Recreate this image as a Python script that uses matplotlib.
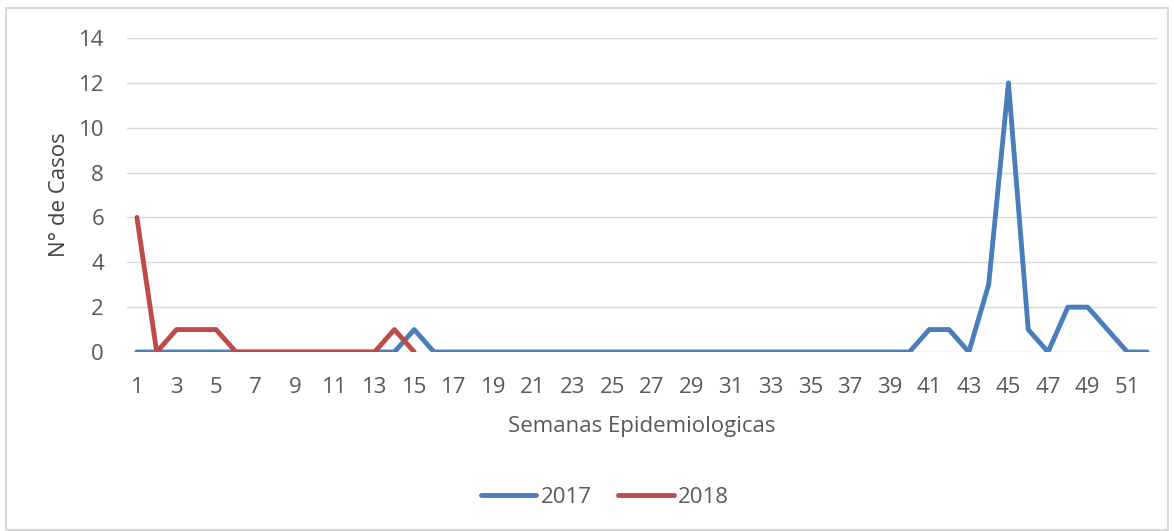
import matplotlib.pyplot as plt
import numpy as np

# weekly cases
semanas = np.arange(1, 53)
casos_2017 = [0, 0, 0, 0, 0, 0, 0, 0, 0, 0, 0, 0, 0, 0, 1, 0, 0, 0, 0, 0,
              0, 0, 0, 0, 0, 0, 0, 0, 0, 0, 0, 0, 0, 0, 0, 0, 0, 0, 0, 0,
              1, 1, 0, 3, 12, 1, 0, 2, 2, 1, 0, 0]
semanas_2018 = np.arange(1, 16)
casos_2018 = [6, 0, 1, 1, 1, 0, 0, 0, 0, 0, 0, 0, 0, 1, 0]

plt.rcParams['font.family'] = ['Open Sans', 'DejaVu Sans']
gris = '#595959'
fs = 16

fig = plt.figure(figsize=(11.74, 5.31), dpi=100)
# outer chart frame
fig.patches.append(plt.Rectangle((0.005, 0.002), 0.99, 0.983, transform=fig.transFigure,
                                 fill=False, edgecolor='#d9d9d9', linewidth=1.5))
ax = fig.add_axes([127 / 1174, 1 - 352 / 531, 1030 / 1174, 314 / 531])

ax.plot(semanas, casos_2017, color='#4a7ebb', linewidth=3.5, label='2017', solid_capstyle='round')
ax.plot(semanas_2018, casos_2018, color='#be4b48', linewidth=3.5, label='2018', solid_capstyle='round')

ax.set_xlim(0.5, 52.5)
ax.set_ylim(0, 14)
ax.set_yticks(range(0, 15, 2))
ax.set_xticks(semanas[::2])
ax.grid(axis='y', color='#d9d9d9', linewidth=1)
ax.set_axisbelow(True)
for s in ax.spines.values():
    s.set_visible(False)
ax.tick_params(length=0, labelsize=fs, colors=gris)
ax.tick_params(axis='x', pad=18)
ax.tick_params(axis='y', pad=16.5)

ax.set_xlabel('Semanas Epidemiologicas', fontsize=fs, color=gris, va='top')
ax.xaxis.set_label_coords(0.5, -0.204)
ax.set_ylabel('N° de Casos', fontsize=fs, color='#404040')
ax.yaxis.set_label_coords(-0.055, 0.5)

ax.legend(loc='center', bbox_to_anchor=(0.464, -0.462), ncol=2, frameon=False,
          fontsize=fs, labelcolor=gris, handlelength=2.5, handletextpad=0.2, columnspacing=1.2)

fig.savefig('out.png', dpi=100)
